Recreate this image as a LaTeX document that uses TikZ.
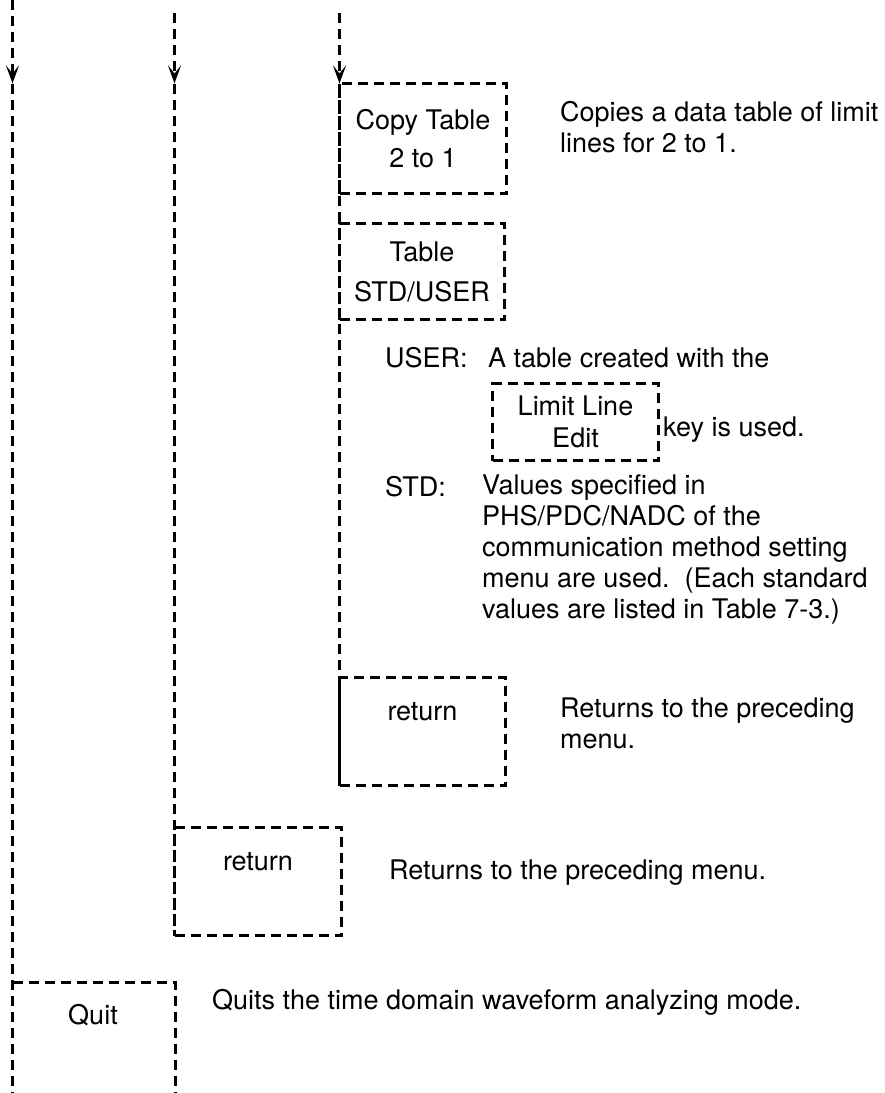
\documentclass[tikz,border=0pt]{standalone}
\usepackage{fontspec}
\setmainfont{TeX Gyre Heros}
\usetikzlibrary{arrows.meta}
\newcommand{\menufont}{\fontsize{27}{31}\selectfont}
\tikzset{
  dline/.style={line width=3pt,dash pattern=on 10pt off 6pt},
  menubox/.style={draw,dline,anchor=north west,align=center,inner sep=0pt,outer sep=0pt,font=\menufont},
  topbox/.style={menubox,text height=43pt,text depth=65pt},
  desc/.style={anchor=north west,align=left,inner sep=0pt,font=\menufont,execute at begin node=\strut},
  tip/.style={-{Stealth[length=18pt,width=13pt,inset=8pt]}}
}

\begin{document}
\begin{tikzpicture}[x=1pt,y=-1pt]
\useasboundingbox (0,0) rectangle (885,1093);

\coordinate (Ltop) at (12.5,0);
\coordinate (Larr) at (12.5,83.5);
\coordinate (Lbot) at (12.5,1093);
\coordinate (Mtop) at (174.5,13);
\coordinate (Marr) at (174.5,83.5);
\coordinate (Rtop) at (339.5,13);
\coordinate (quitNW) at (12.5,982.5);
\coordinate (quitNE) at (175.5,982.5);
\coordinate (quitSE) at (175.5,1093);

\node[menubox,minimum width=167pt,minimum height=110pt] (copy) at (339.5,83.5) {Copy Table\\[7pt]2 to 1};
\node[menubox,minimum width=165pt,minimum height=96pt] (tbl) at (339.5,223.5) {Table\\[9pt]STD/USER};
\node[menubox,minimum width=166pt,minimum height=77pt] (limit) at (492.5,383.5) {Limit Line\\[1pt]Edit};
\node[topbox,minimum width=166pt] (ret2) at (339.5,677.5) {return};
\node[topbox,minimum width=167pt] (ret1) at (174.5,827.5) {return};
\node[font=\menufont] (quit) at (93,1015) {Quit};

\node[desc] (copydesc) at (560,101) {Copies a data table of limit\\lines for 2 to 1.};
\node[desc] (user) at (385,346) {USER:};
\node[desc] (userdesc) at (488,346) {A table created with the};
\node[desc] (keyused) at (663,415) {key is used.};
\node[desc] (std) at (385,475) {STD:};
\node[desc] (stddesc) at (482,475) {Values specified in\\PHS/PDC/NADC of the\\communication method setting\\menu are used.\ \ (Each standard\\values are listed in Table 7-3.)};
\node[desc] (ret2desc) at (560,698) {Returns to the preceding\\menu.};
\node[desc] (ret1desc) at (389,858) {Returns to the preceding menu.};
\node[desc] (quitdesc) at (212,988) {Quits the time domain waveform analyzing mode.};

\draw[dline,tip] (Ltop) -- (Larr);
\draw[dline] (Larr) -- (Lbot);
\draw[dline,tip] (Mtop) -- (Marr);
\draw[dline] (Marr) -- (ret1.south west);
\draw[dline,tip] (Rtop) -- (copy.north west);
\draw[dline] (copy.north west) -- (ret2.south west);
\draw[dline] (quitNW) -- (quitNE) -- (quitSE);

\end{tikzpicture}
\end{document}
